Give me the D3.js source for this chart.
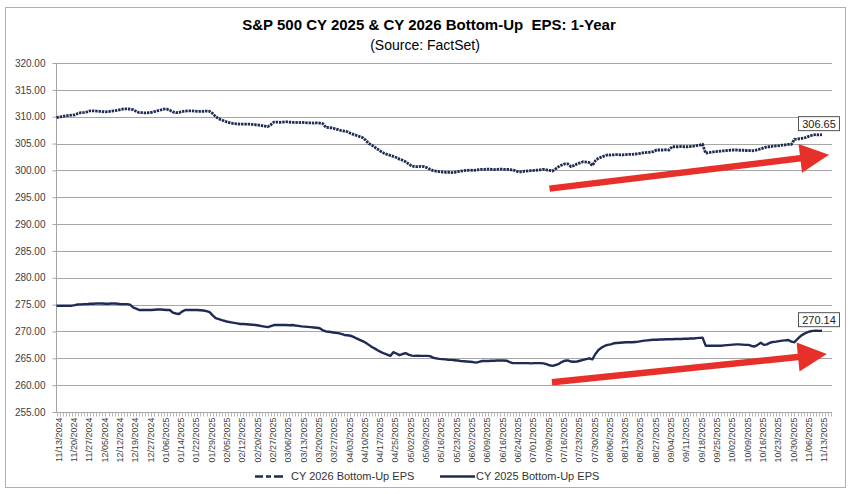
<!DOCTYPE html>
<html><head><meta charset="utf-8">
<script src="https://cdn.jsdelivr.net/npm/d3@7"></script>
<style>body{margin:0;background:#fff} svg{display:block} text{font-family:"Liberation Sans",Arial,sans-serif}</style>
</head><body><svg id="c" width="863" height="494"></svg>
<script>
const tickLabels = ["11/13/2024","11/20/2024","11/27/2024","12/05/2024","12/12/2024","12/19/2024","12/27/2024","01/06/2025","01/14/2025","01/22/2025","01/29/2025","02/05/2025","02/12/2025","02/20/2025","02/27/2025","03/06/2025","03/13/2025","03/20/2025","03/27/2025","04/03/2025","04/10/2025","04/17/2025","04/25/2025","05/02/2025","05/09/2025","05/16/2025","05/23/2025","06/02/2025","06/09/2025","06/16/2025","06/24/2025","07/01/2025","07/09/2025","07/16/2025","07/23/2025","07/30/2025","08/06/2025","08/13/2025","08/20/2025","08/27/2025","09/04/2025","09/11/2025","09/18/2025","09/25/2025","10/02/2025","10/09/2025","10/16/2025","10/23/2025","10/30/2025","11/06/2025","11/13/2025"];
const daysPerLabel = 5;
const yTicks = [255,260,265,270,275,280,285,290,295,300,305,310,315,320];
const seriesNames = ["CY 2026 Bottom-Up EPS","CY 2025 Bottom-Up EPS"];
const cy2026 = [
309.85,309.95,310.05,310.15,310.25,310.3,310.35,310.6,310.75,310.8,
310.9,311.1,311.1,311.05,311.0,310.95,310.9,310.95,311.05,311.1,
311.2,311.35,311.45,311.45,311.4,311.3,311.0,310.75,310.75,310.7,
310.75,310.8,310.95,311.1,311.25,311.4,311.4,311.2,310.9,310.75,
310.8,310.95,311.05,311.1,311.1,311.05,311.0,311.0,311.0,311.05,
311.0,310.6,310.0,309.6,309.4,309.15,308.95,308.8,308.7,308.65,
308.6,308.6,308.6,308.6,308.55,308.5,308.45,308.35,308.25,308.15,
308.5,309.0,309.0,308.95,309.0,309.05,309.0,308.95,308.95,308.9,
308.95,308.9,308.85,308.85,308.8,308.85,308.8,308.7,308.0,307.95,
307.9,307.75,307.6,307.4,307.3,307.2,306.9,306.7,306.5,306.3,
306.1,305.6,305.0,304.7,304.3,303.9,303.5,303.2,302.95,302.8,
302.6,302.4,302.1,301.9,301.6,301.2,300.8,300.7,300.7,300.75,
300.7,300.5,300.2,299.95,299.85,299.75,299.7,299.65,299.65,299.6,
299.65,299.75,299.85,299.95,300.0,300.05,300.0,300.05,300.15,300.2,
300.2,300.25,300.2,300.15,300.2,300.25,300.2,300.2,300.15,300.1,
299.9,299.7,299.75,299.85,299.9,299.95,300.0,300.05,300.1,300.2,
300.1,300.0,299.9,300.3,300.7,301.0,301.2,301.2,300.7,300.9,
301.2,301.4,301.6,301.55,301.45,300.9,301.8,302.25,302.5,302.7,
302.9,302.85,302.9,302.95,302.9,302.9,302.95,303.0,303.0,303.05,
303.1,303.2,303.3,303.35,303.4,303.5,303.8,303.8,303.8,303.85,
303.8,304.4,304.4,304.4,304.45,304.4,304.4,304.45,304.5,304.6,
304.7,304.85,303.2,303.3,303.4,303.5,303.55,303.6,303.65,303.7,
303.75,303.8,303.8,303.75,303.75,303.7,303.7,303.65,303.7,303.85,
304.0,304.2,304.4,304.4,304.5,304.55,304.6,304.7,304.75,304.85,
304.85,305.8,305.85,305.9,306.0,306.2,306.4,306.6,306.65,306.6,
306.65];
const cy2025 = [
274.8,274.8,274.8,274.8,274.8,274.8,274.9,275.05,275.05,275.1,
275.1,275.15,275.15,275.2,275.2,275.2,275.15,275.15,275.2,275.2,
275.15,275.1,275.1,275.1,275.0,274.5,274.25,274.0,274.0,274.0,
274.0,274.0,274.05,274.1,274.1,274.05,274.0,274.0,273.5,273.35,
273.25,273.7,274.0,274.0,274.0,274.0,274.0,273.95,273.9,273.8,
273.6,273.0,272.5,272.3,272.1,271.95,271.8,271.7,271.6,271.5,
271.4,271.4,271.35,271.3,271.25,271.2,271.1,271.0,270.9,270.8,
271.0,271.2,271.2,271.2,271.2,271.2,271.15,271.2,271.1,271.05,
270.95,270.9,270.85,270.8,270.75,270.7,270.6,270.2,270.0,269.95,
269.85,269.75,269.7,269.55,269.35,269.3,269.2,269.0,268.7,268.45,
268.2,267.9,267.5,267.1,266.8,266.45,266.15,265.9,265.7,265.45,
266.15,265.9,265.6,265.8,265.95,265.7,265.5,265.45,265.5,265.45,
265.45,265.45,265.4,265.1,265.0,264.9,264.85,264.8,264.7,264.7,
264.65,264.6,264.5,264.45,264.4,264.35,264.3,264.2,264.35,264.5,
264.5,264.5,264.55,264.55,264.6,264.6,264.6,264.55,264.3,264.1,
264.1,264.1,264.1,264.1,264.1,264.05,264.1,264.1,264.1,264.05,
263.9,263.7,263.6,263.75,263.95,264.3,264.55,264.6,264.4,264.35,
264.4,264.55,264.7,264.85,265.0,264.8,265.8,266.55,267.0,267.3,
267.5,267.6,267.8,267.85,267.9,267.95,268.0,268.0,268.0,268.05,
268.1,268.2,268.3,268.35,268.4,268.45,268.45,268.5,268.5,268.55,
268.55,268.55,268.6,268.6,268.6,268.65,268.65,268.7,268.7,268.75,
268.8,268.85,267.35,267.35,267.35,267.35,267.35,267.35,267.4,267.45,
267.5,267.55,267.6,267.6,267.55,267.5,267.5,267.3,267.2,267.5,
267.9,267.5,267.6,267.9,268.05,268.1,268.2,268.3,268.35,268.4,
268.1,268.0,268.6,269.15,269.5,269.8,270.0,270.1,270.15,270.1,
270.14];
const lastLabels = ["306.65","270.14"];
// trend arrows in data coordinates: [index, value]
const arrowFrom = [[161, 296.6], [161.8, 260.55]];
const arrowTo = [[252.3, 302.9], [251.6, 265.8]];

const svg = d3.select("#c");
const navy = "#1d2b55", grid = "#a6a6a6", red = "#e8302a", txt = "#404040";

// outer border
svg.append("rect").attr("x",5.5).attr("y",7.5).attr("width",840).attr("height",480)
  .attr("fill","none").attr("stroke","#b0b0b0");

const n = cy2026.length;
const x = d3.scaleLinear().domain([0, n-1]).range([56.5, 822]);
const y = d3.scaleLinear().domain([255, 320]).range([412, 63]);
const plotRight = 832;

// gridlines
svg.append("g").selectAll("line").data(yTicks.filter(v=>v>255)).join("line")
  .attr("x1",56).attr("x2",plotRight).attr("y1",d=>Math.round(y(d))+0.5).attr("y2",d=>Math.round(y(d))+0.5)
  .attr("stroke",grid).attr("stroke-width",1);

// y axis
const ya = svg.append("g").attr("transform","translate(56.5,0)")
  .call(d3.axisLeft(y).tickValues(yTicks).tickFormat(d3.format(".2f")).tickSize(4).tickPadding(7));
ya.select(".domain").attr("stroke",grid).attr("d","M0,63V412");
ya.selectAll(".tick line").attr("stroke",grid);
ya.selectAll(".tick text").attr("fill",txt).style("font-size","10px").style("font-family","Liberation Sans, Arial, sans-serif");

// x axis
const idx = d3.range(0, 254);
const xa = svg.append("g").attr("transform","translate(0,412.5)");
xa.append("line").attr("x1",56).attr("x2",plotRight).attr("stroke",grid);
xa.selectAll("line.tk").data(idx.filter(i=>x(i)<=plotRight)).join("line").attr("class","tk")
  .attr("x1",d=>Math.round(x(d))+0.5).attr("x2",d=>Math.round(x(d))+0.5).attr("y1",0).attr("y2",4)
  .attr("stroke",grid).attr("stroke-width",0.8);
xa.selectAll("text").data(tickLabels).join("text")
  .attr("transform",(d,k)=>`translate(${x(k*daysPerLabel)+2},5) rotate(-90)`)
  .attr("text-anchor","end").attr("dy","0.35em")
  .attr("fill",txt).style("font-size","9px").text(d=>d);

// lines
const line = d3.line().x((d,i)=>x(i)).y(d=>y(d));
svg.append("path").datum(cy2025).attr("d",line).attr("fill","none")
  .attr("stroke",navy).attr("stroke-width",2.4).attr("stroke-linejoin","round");
svg.append("path").datum(cy2026).attr("d",line).attr("fill","none")
  .attr("stroke",navy).attr("stroke-width",2.8).attr("stroke-dasharray","2.4,0.9");

// arrows
arrowFrom.forEach((f,k)=>{
  const p0=[x(f[0]),y(f[1])], p1=[x(arrowTo[k][0]),y(arrowTo[k][1])];
  const dx=p1[0]-p0[0], dy=p1[1]-p0[1], L=Math.hypot(dx,dy);
  const u=[dx/L,dy/L], nv=[-u[1],u[0]];
  const hl=29, hw=14.5, t=3.2;
  const b=[p1[0]-u[0]*hl, p1[1]-u[1]*hl];
  const pts=[
    [p0[0]+nv[0]*t,p0[1]+nv[1]*t],[b[0]+nv[0]*t,b[1]+nv[1]*t],[b[0]+nv[0]*hw,b[1]+nv[1]*hw],
    p1,[b[0]-nv[0]*hw,b[1]-nv[1]*hw],[b[0]-nv[0]*t,b[1]-nv[1]*t],[p0[0]-nv[0]*t,p0[1]-nv[1]*t]];
  svg.append("path").attr("d","M"+pts.map(p=>p.join(",")).join("L")+"Z").attr("fill",red);
});

// end labels
[cy2026, cy2025].forEach((s,k)=>{
  const px=x(s.length-1), py=y(s[s.length-1]);
  const w=41, h=14, cx=px-3, by=py-4;
  svg.append("rect").attr("x",cx-w/2).attr("y",by-h).attr("width",w).attr("height",h)
    .attr("fill","#fff").attr("stroke","#404040").attr("stroke-width",0.9);
  svg.append("text").attr("x",cx).attr("y",by-h/2).attr("dy","0.36em").attr("text-anchor","middle")
    .attr("fill","#222").style("font-size","11px").text(lastLabels[k]);
});

// title
svg.append("text").attr("x",429).attr("y",30).attr("text-anchor","middle")
  .style("font-size","15px").style("font-weight","bold").attr("fill","#000")
  .text("S&P 500 CY 2025 & CY 2026 Bottom-Up  EPS: 1-Year").attr("xml:space","preserve");
svg.append("text").attr("x",425).attr("y",50).attr("text-anchor","middle")
  .style("font-size","14px").attr("fill","#000").text("(Source: FactSet)");

// legend
const lg = svg.append("g");
lg.append("line").attr("x1",255).attr("x2",283).attr("y1",476.5).attr("y2",476.5)
  .attr("stroke",navy).attr("stroke-width",2.6).attr("stroke-dasharray","8,3,5,3,9");
lg.append("text").attr("x",291).attr("y",476).attr("dy","0.35em").style("font-size","11px").attr("fill","#333").text(seriesNames[0]);
lg.append("line").attr("x1",440).attr("x2",475).attr("y1",476.5).attr("y2",476.5)
  .attr("stroke",navy).attr("stroke-width",2.4);
lg.append("text").attr("x",476).attr("y",476).attr("dy","0.35em").style("font-size","11px").attr("fill","#333").text(seriesNames[1]);
</script></body></html>
